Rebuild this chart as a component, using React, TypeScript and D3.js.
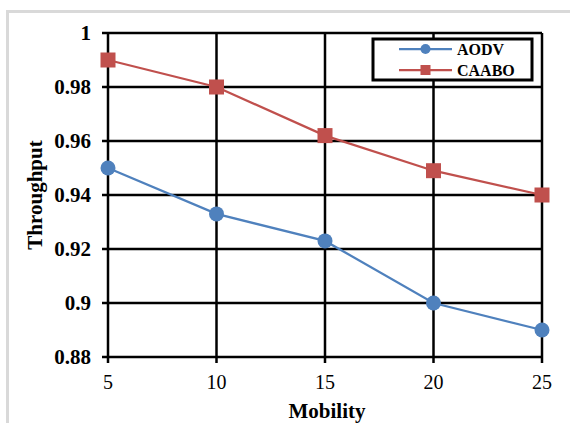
import React from 'react';
import * as d3 from 'd3';

const mobility = [5, 10, 15, 20, 25];
const aodv = [0.95, 0.933, 0.923, 0.9, 0.89];
const caabo = [0.99, 0.98, 0.962, 0.949, 0.94];
const yTicks = [0.88, 0.9, 0.92, 0.94, 0.96, 0.98, 1];

const BLUE = '#4F81BD';
const RED = '#C0504D';
const FONT = 'Liberation Serif';

const width = 570;
const height = 423;
const margin = { top: 33, right: 28, bottom: 66, left: 108 };

const x = d3.scaleLinear()
  .domain([5, 25])
  .range([margin.left, width - margin.right]);

const y = d3.scaleLinear()
  .domain([0.88, 1])
  .range([height - margin.bottom, margin.top]);

const line = d3.line<number>()
  .x((d, i) => x(mobility[i]))
  .y(d => y(d));

const legendItems = [
  { name: 'AODV', color: BLUE, shape: 'circle' },
  { name: 'CAABO', color: RED, shape: 'square' },
];

const App = () => {
  return (
    <svg
      width={width}
      height={height}
      style={{ position: 'absolute', left: 0, top: 0, background: 'white' }}
    >
      {/* light frame, only left/top edges are inside the picture */}
      <rect x={7.5} y={11.5} width={width + 20} height={height + 20}
        fill="white" stroke="#d9d9d9" strokeWidth={3} />

      {yTicks.map(t => (
        <line key={'h' + t} x1={margin.left - 6} x2={x(25)} y1={y(t)} y2={y(t)}
          stroke="black" strokeWidth={2.5} />
      ))}
      {mobility.map(m => (
        <line key={'v' + m} x1={x(m)} x2={x(m)} y1={y(1)} y2={y(0.88) + 6}
          stroke="black" strokeWidth={2.5} />
      ))}

      {yTicks.map(t => (
        <text key={'yl' + t} x={91} y={y(t)} dy="0.35em" textAnchor="end"
          fontFamily={FONT} fontWeight="bold" fontSize={21}>
          {d3.format('~g')(t)}
        </text>
      ))}
      {mobility.map(m => (
        <text key={'xl' + m} x={x(m)} y={389} textAnchor="middle"
          fontFamily={FONT} fontSize={20}>
          {m}
        </text>
      ))}

      <text x={(x(5) + x(25)) / 2 + 2} y={418} textAnchor="middle"
        fontFamily={FONT} fontWeight="bold" fontSize={21}>
        Mobility
      </text>
      <text transform={`translate(42,${(y(0.88) + y(1)) / 2}) rotate(-90)`}
        textAnchor="middle" fontFamily={FONT} fontWeight="bold" fontSize={21}>
        Throughput
      </text>

      <path d={line(aodv) || ''} fill="none" stroke={BLUE} strokeWidth={2.25} />
      <path d={line(caabo) || ''} fill="none" stroke={RED} strokeWidth={2.25} />

      {aodv.map((v, i) => (
        <circle key={'a' + i} cx={x(mobility[i])} cy={y(v)} r={7.5} fill={BLUE} />
      ))}
      {caabo.map((v, i) => (
        <rect key={'c' + i} x={x(mobility[i]) - 7.5} y={y(v) - 7.5}
          width={15} height={15} fill={RED} />
      ))}

      {/* legend */}
      <rect x={373} y={39} width={159} height={41} fill="white"
        stroke="black" strokeWidth={3} />
      {legendItems.map((it, i) => {
        const ly = 49 + i * 21;
        return (
          <g key={it.name}>
            <line x1={399} x2={452} y1={ly} y2={ly} stroke={it.color} strokeWidth={2.25} />
            {it.shape === 'circle'
              ? <circle cx={425.5} cy={ly} r={5} fill={it.color} />
              : <rect x={420.5} y={ly - 5} width={10} height={10} fill={it.color} />}
            <text x={457} y={ly} dy="0.35em" fontFamily={FONT}
              fontWeight="bold" fontSize={16}>
              {it.name}
            </text>
          </g>
        );
      })}
    </svg>
  );
};

export default App;
